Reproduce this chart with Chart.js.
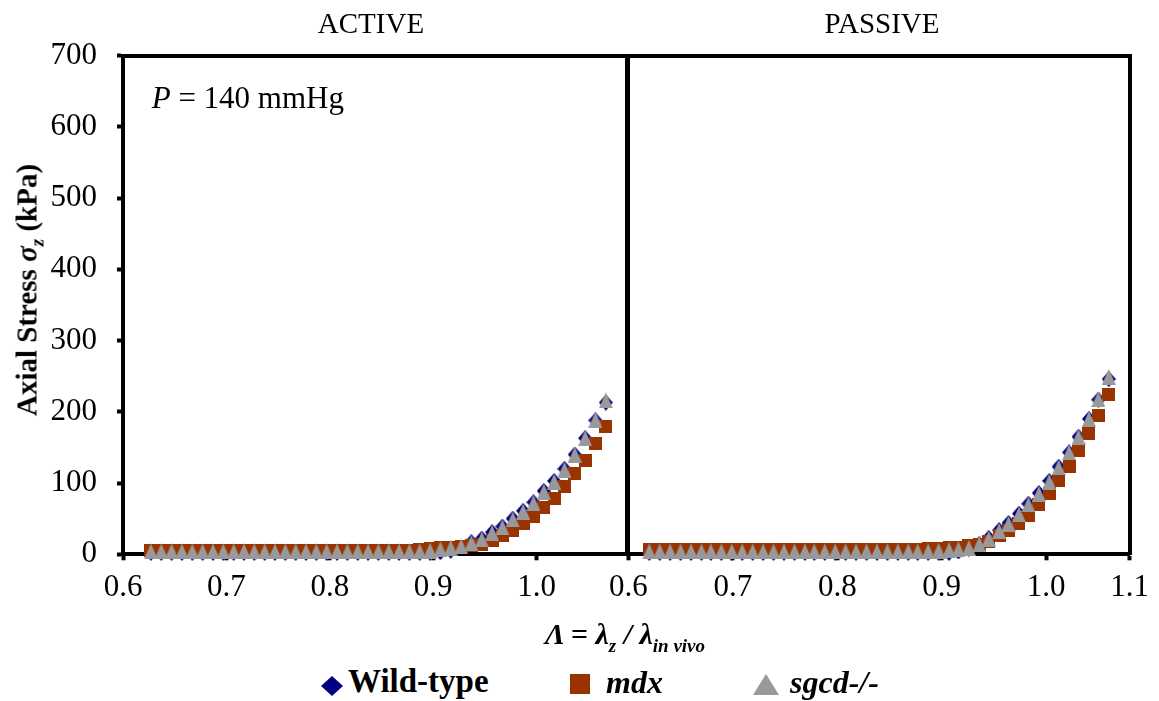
<!DOCTYPE html>
<html><head><meta charset="utf-8">
<script src="https://cdn.jsdelivr.net/npm/chart.js@4.4.1/dist/chart.umd.min.js"></script>
<style>
html,body{margin:0;padding:0;background:#fff;width:1159px;height:701px;overflow:hidden;position:relative;font-family:'Liberation Serif','Times New Roman',serif;color:#000}
canvas{position:absolute;top:0}
#c1{left:0}
#c2{left:600px}
.t{position:absolute;white-space:nowrap;line-height:1}
.mk{position:absolute}
</style></head><body>
<canvas id="c1" width="640" height="620"></canvas>
<canvas id="c2" width="559" height="620"></canvas>

<div class="t" id="tA" style="font-size:29px">ACTIVE</div>
<div class="t" id="tP" style="font-size:29px">PASSIVE</div>
<div class="t" id="tPr" style="font-size:31px"><i>P</i> = 140 mmHg</div>
<div class="t" id="tX" style="font-size:30px;font-weight:bold;font-style:italic">Λ = λ<span style="font-size:19px;position:relative;top:8px">z</span> / λ<span style="font-size:19px;position:relative;top:8px">in vivo</span></div>
<div class="t" id="tY" style="font-size:29px;font-weight:bold">Axial Stress <i>σ</i><span style="font-size:19px;position:relative;top:7px;font-style:italic">z</span> (kPa)</div>

<div class="mk" style="left:321px;top:676px;width:22px;height:20px;background:#000080;clip-path:polygon(50% 0,100% 50%,50% 100%,0 50%)"></div>
<div class="mk" style="left:570px;top:674px;width:20px;height:20px;background:#993300"></div>
<div class="mk" style="left:753px;top:674px;width:26px;height:21px;background:#999999;clip-path:polygon(50% 0,100% 100%,0 100%)"></div>
<div class="t" id="l1" style="font-size:33px;font-weight:bold">Wild-type</div>
<div class="t" id="l2" style="font-size:32px;font-weight:bold;font-style:italic">mdx</div>
<div class="t" id="l3" style="font-size:32px;font-weight:bold;font-style:italic">sgcd-/-</div>

<script>
// ---------- DATA ----------
const seriesNames = ['Wild-type', 'mdx', 'sgcd-/-'];

const activeLambda = [0.627,0.637,0.647,0.657,0.667,0.677,0.687,0.697,0.707,0.717,0.727,0.737,0.747,0.757,0.767,0.777,0.787,0.797,0.807,0.817,0.827,0.837,0.847,0.857,0.867,0.877,0.887,0.897,0.907,0.917,0.927,0.937,0.947,0.957,0.967,0.977,0.987,0.997,1.007,1.017,1.027,1.037,1.047,1.057,1.067];
const activeWT   = [2,2,2,2,2,2,2,2,2,2,2,2,2,2,2,2,2,2,2,2,2,2,2,2,2,2,2,2,3,5,9,17,22,31,39,50,61,73,89,103,120,140,163,188,213];
const activeMdx  = [6,6,6,6,6,6,6,6,6,6,6,6,6,6,6,6,6,6,6,6,6,6,6,6,6,6,7,8,9,10,11,12,14,19,26,33,43,53,66,79,95,113,132,155,179];
const activeSgcd = [4,4,4,4,4,4,4,4,4,4,4,4,4,4,4,4,4,4,4,4,4,4,4,4,4,4,4,5,7,9,11,16,21,30,38,49,60,72,88,102,119,140,163,189,216];

const passiveLambda = [0.620,0.630,0.640,0.650,0.660,0.670,0.679,0.689,0.699,0.709,0.719,0.729,0.739,0.749,0.759,0.769,0.778,0.788,0.798,0.808,0.818,0.828,0.838,0.848,0.858,0.868,0.877,0.887,0.897,0.907,0.916,0.926,0.936,0.945,0.955,0.964,0.974,0.983,0.993,1.003,1.012,1.022,1.031,1.041,1.050,1.060];
const passiveWT   = [2,2,2,2,2,2,2,2,2,2,2,2,2,2,2,2,2,2,2,2,2,2,2,2,2,2,2,2,2,2,4,8,14,23,34,44,57,71,86,103,123,143,165,190,217,246];
const passiveMdx  = [7,7,7,7,7,7,7,7,7,7,7,7,7,7,7,7,7,7,7,7,7,7,7,7,7,7,7,8,8,9,10,12,14,18,26,33,43,54,70,86,103,123,145,169,195,224];
const passiveSgcd = [4,4,4,4,4,4,4,4,4,4,4,4,4,4,4,4,4,4,4,4,4,4,4,4,4,4,4,4,5,6,7,9,14,22,33,43,56,70,85,102,122,143,165,190,218,249];

const yTicks = [0,100,200,300,400,500,600,700];
const activeXTicks = [0.6,0.7,0.8,0.9,1.0];
const activeXLabels = ['0.6','0.7','0.8','0.9','1.0'];
const passiveXTicks = [0.6,0.7,0.8,0.9,1.0,1.08];
const passiveXLabels = ['0.6','0.7','0.8','0.9','1.0','1.1'];

// ---------- STYLE ----------
const FONT = "'Liberation Serif','Times New Roman',serif";
function marker(shape, w, h, fill) {
  const c = document.createElement('canvas'); c.width = w; c.height = h;
  const g = c.getContext('2d'); g.fillStyle = fill; g.beginPath();
  if (shape === 'tri') { g.moveTo(w/2,0); g.lineTo(w,h); g.lineTo(0,h); }
  else if (shape === 'dia') { g.moveTo(w/2,0); g.lineTo(w,h/2); g.lineTo(w/2,h); g.lineTo(0,h/2); }
  else { g.rect(0,0,w,h); }
  g.closePath(); g.fill();
  return c;
}
const mkWT = marker('dia', 14, 16, '#000080');
const mkMdx = marker('sq', 13, 13, '#993300');
const mkSg = marker('tri', 14, 16, '#999999');

function pts(xs, ys) { return xs.map((x, i) => ({x: x, y: ys[i]})); }

function datasets(xs, wt, mdx, sg) {
  return [
    {label: seriesNames[0], data: pts(xs, wt), pointStyle: mkWT, order: 3, clip: false},
    {label: seriesNames[1], data: pts(xs, mdx), pointStyle: mkMdx, order: 2, clip: false},
    {label: seriesNames[2], data: pts(xs, sg), pointStyle: mkSg, order: 1, clip: false}
  ];
}

const BORDER = {display: true, width: 4, color: '#000'};
const TOP = 55.5, BOTTOM_H = 65.7;

function makeChart(id, xs, wt, mdx, sg, xmax, xt, xl, yWidth, showY, padRight) {
  return new Chart(document.getElementById(id), {
    type: 'scatter',
    data: {datasets: datasets(xs, wt, mdx, sg)},
    options: {
      responsive: false, animation: false, events: [],
      layout: {padding: {top: TOP, left: 0, right: padRight, bottom: 0}},
      plugins: {legend: {display: false}, tooltip: {enabled: false}},
      elements: {point: {radius: 7, hoverRadius: 7}, line: {borderWidth: 0}},
      scales: {
        x: {
          type: 'linear', position: 'bottom', min: 0.6, max: xmax, z: 1,
          afterBuildTicks: s => { s.ticks = xt.map(v => ({value: v})); },
          afterFit: s => { s.height = BOTTOM_H; },
          ticks: {autoSkip: false, maxRotation: 0, padding: 9, color: '#000',
                  font: {family: FONT, size: 31}, callback: (v, i) => xl[i]},
          grid: {display: true, drawOnChartArea: false, drawTicks: true, tickLength: 6, tickWidth: 4, tickColor: '#000'},
          border: BORDER
        },
        x2: {
          type: 'linear', position: 'top', min: 0.6, max: xmax, z: 1,
          afterFit: s => { s.height = 0; },
          ticks: {display: false}, grid: {display: false, drawTicks: false}, border: BORDER
        },
        y: {
          type: 'linear', position: 'left', min: 0, max: 700, z: 1,
          afterBuildTicks: s => { s.ticks = yTicks.map(v => ({value: v})); },
          afterFit: s => { s.width = yWidth; },
          ticks: {display: showY, padding: 20, color: '#000', font: {family: FONT, size: 31}},
          grid: {display: showY, drawOnChartArea: false, drawTicks: true, tickLength: 6, tickWidth: 4, tickColor: '#000'},
          border: BORDER
        },
        y2: {
          type: 'linear', position: 'right', min: 0, max: 700, z: 1,
          afterFit: s => { s.width = 0; },
          ticks: {display: false}, grid: {display: false, drawTicks: false}, border: BORDER
        }
      }
    }
  });
}

makeChart('c1', activeLambda, activeWT, activeMdx, activeSgcd, 1.087, activeXTicks, activeXLabels, 123, true, 640 - 626.5);
makeChart('c2', passiveLambda, passiveWT, passiveMdx, passiveSgcd, 1.08, passiveXTicks, passiveXLabels, 26.5, false, 559 - 529.7);

// ---------- TEXT PLACEMENT ----------
function place(id, x, baseline, size, align) {
  const el = document.getElementById(id);
  el.style.top = (baseline - 0.8375 * size) + 'px';
  if (align === 'center') { el.style.left = x + 'px'; el.style.transform = 'translateX(-50%)'; }
  else { el.style.left = x + 'px'; }
}
place('tA', 371, 33.3, 29, 'center');
place('tP', 882, 33.3, 29, 'center');
place('tPr', 151.7, 108.3, 31, 'left');
place('tX', 625, 644, 30, 'center');
place('l1', 348, 693, 33, 'left');
place('l2', 606, 693, 32, 'left');
place('l3', 790, 693, 32, 'left');
const ty = document.getElementById('tY');
ty.style.left = '27px'; ty.style.top = '290px';
ty.style.transform = 'translate(-50%,-50%) rotate(-90deg)';
</script>
</body></html>
